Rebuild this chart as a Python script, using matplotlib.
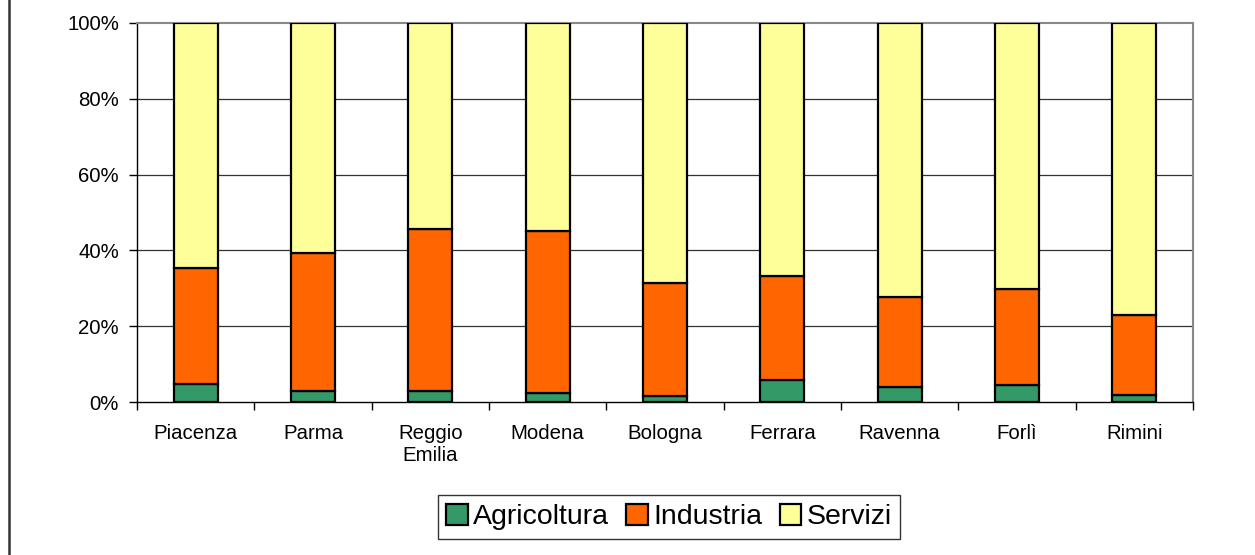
import matplotlib
matplotlib.use("Agg")
import matplotlib.pyplot as plt
from matplotlib.lines import Line2D
from matplotlib.ticker import FuncFormatter, FixedLocator
import numpy as np

plt.rcParams['font.family'] = ['Liberation Sans', 'DejaVu Sans']

provinces = ["Piacenza", "Parma", "Reggio\nEmilia", "Modena", "Bologna",
             "Ferrara", "Ravenna", "Forlì", "Rimini"]
agricoltura = [4.7, 3.0, 3.0, 2.3, 1.5, 5.9, 4.0, 4.4, 1.9]
industria_cum = [35.3, 39.2, 45.7, 45.2, 31.4, 33.3, 27.7, 29.8, 22.9]
industria = [c - a for c, a in zip(industria_cum, agricoltura)]
servizi = [100 - c for c in industria_cum]

series_names = ["Agricoltura", "Industria", "Servizi"]
colors = ["#339966", "#FF6600", "#FFFF99"]
yticks = [0, 20, 40, 60, 80, 100]

W, H = 1255, 555
fig = plt.figure(figsize=(W / 100, H / 100), dpi=100)
ax = fig.add_axes([137 / W, 1 - 402 / H, (1193 - 137) / W, (402 - 23) / H])

x = np.arange(len(provinces))
bw = 0.375
bottoms = np.zeros(len(provinces))
handles = []
for vals, name, col in zip([agricoltura, industria, servizi], series_names, colors):
    b = ax.bar(x, vals, bw, bottom=bottoms, color=col, edgecolor="black",
               linewidth=1.6, label=name, zorder=3)
    handles.append(b)
    bottoms = bottoms + np.array(vals)

ax.set_xlim(-0.5, len(provinces) - 0.5)
ax.set_ylim(0, 100)
ax.set_yticks(yticks)
ax.yaxis.set_major_formatter(FuncFormatter(lambda v, p: f"{int(v)}%"))
for yv in yticks[1:-1]:
    ax.axhline(yv, color="#333333", linewidth=0.9, zorder=1)

ax.set_xticks(x)
ax.set_xticklabels(provinces)
ax.xaxis.set_minor_locator(FixedLocator(np.arange(-0.5, len(provinces), 1.0)))
ax.tick_params(axis="x", which="major", length=0, pad=16, labelsize=14.7)
ax.tick_params(axis="x", which="minor", length=6, width=1, color="black", direction="out")
ax.tick_params(axis="y", length=6, width=1, direction="out", pad=7, labelsize=14.7)

for s in ["left", "bottom"]:
    ax.spines[s].set_color("black")
    ax.spines[s].set_linewidth(1.0)
for s in ["top", "right"]:
    ax.spines[s].set_color("#888888")
    ax.spines[s].set_linewidth(1.5)

leg = fig.legend(handles=handles, labels=series_names, loc="center",
                 bbox_to_anchor=(669 / W, 1 - 517 / H), ncol=3, fontsize=20.5,
                 frameon=True, fancybox=False, handlelength=0.75, handleheight=0.75,
                 handletextpad=0.2, columnspacing=0.6, borderpad=0.3,
                 borderaxespad=0)
leg.get_frame().set_edgecolor("black")
leg.get_frame().set_linewidth(1.0)

fig.add_artist(Line2D([8.5 / W, 8.5 / W], [1 / H, 1.0], transform=fig.transFigure,
                      color="#333333", linewidth=1.8))

fig.savefig("out.png", dpi=100)
